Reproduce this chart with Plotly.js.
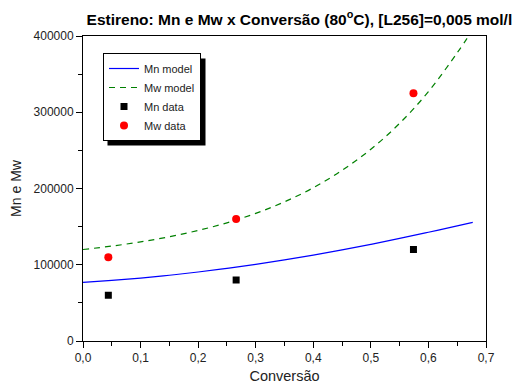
<!DOCTYPE html>
<html>
<head>
<meta charset="utf-8">
<script src="https://cdn.plot.ly/plotly-3.0.1.min.js"></script>
<style>html,body{margin:0;padding:0;background:#fff;}#chart{width:518px;height:387px;}</style>
</head>
<body>
<div id="chart"></div>
<script>
// Model curves
const modelConv = [0, 0.05, 0.1, 0.15, 0.2, 0.25, 0.3, 0.35, 0.4, 0.45, 0.5, 0.55, 0.6, 0.65, 0.677];
const mnModel = [77000, 79500, 82500, 86200, 90500, 95300, 100600, 106400, 112700, 119500, 126800, 134500, 142600, 151000, 155500];
const mwModel = [120000, 124500, 130000, 136700, 145000, 155000, 167400, 182500, 201000, 223800, 251500, 285500, 327000, 378000, 408000];
// Experimental data
const dataConv = [0.044, 0.266, 0.574];
const mnData = [60000, 80000, 120000];
const mwData = [110000, 160000, 325000];
const xTicks = [0, 0.1, 0.2, 0.3, 0.4, 0.5, 0.6, 0.7];
const yTicks = [0, 100000, 200000, 300000, 400000];

const FONT = 'Liberation Sans, Arial, sans-serif';
const traces = [
  {x: modelConv, y: mnModel, mode: 'lines', name: 'Mn model', line: {color: '#0000ff', width: 1.2, shape: 'spline'}},
  {x: modelConv, y: mwModel, mode: 'lines', name: 'Mw model', line: {color: '#008000', width: 1.2, dash: '6px,5px', shape: 'spline'}},
  {x: dataConv, y: mnData, mode: 'markers', name: 'Mn data', marker: {symbol: 'square', color: '#000', size: 7}},
  {x: dataConv, y: mwData, mode: 'markers', name: 'Mw data', marker: {symbol: 'circle', color: '#ff0000', size: 8}}
];
const L = 83, R = 486, T = 36, B = 341;
const pw = R - L, ph = B - T;
function px(x){return (x - L)/pw;}
function py(y){return (B - y)/ph;}
const layout = {
  width: 518, height: 387,
  margin: {l: L, r: 518 - R, t: T, b: 387 - B, pad: 0},
  paper_bgcolor: '#fff', plot_bgcolor: '#fff',
  separators: ',.',
  font: {family: FONT, size: 12, color: '#222'},
  showlegend: true,
  title: {text: 'Estireno: Mn e Mw x Conversão (80<sup>o</sup>C), [L256]=0,005 mol/l',
          font: {family: FONT, size: 15.5, color: '#000', weight: 'bold'},
          x: 0.578, xanchor: 'center', y: 0.95, yanchor: 'middle', xref: 'container', yref: 'container'},
  xaxis: {range: [0, 0.7], tickvals: xTicks, tickformat: '.1f', ticks: 'outside', ticklen: 6, tickwidth: 1,
          tickcolor: '#000', showline: true, linecolor: '#000', linewidth: 1, mirror: true, showgrid: false, zeroline: false,
          tickfont: {family: FONT, size: 12, color: '#222'},
          minor: {dtick: 0.05, ticks: 'outside', ticklen: 4, tickcolor: '#000', showgrid: false},
          title: {text: 'Conversão', font: {family: FONT, size: 14.5, color: '#222'}, standoff: 6}},
  yaxis: {range: [0, 400000], tickvals: yTicks, tickformat: 'd', ticks: 'outside', ticklen: 6, tickwidth: 1,
          tickcolor: '#000', showline: true, linecolor: '#000', linewidth: 1, mirror: true, showgrid: false, zeroline: false,
          tickfont: {family: FONT, size: 12, color: '#222'},
          minor: {dtick: 50000, ticks: 'outside', ticklen: 4, tickcolor: '#000', showgrid: false},
          title: {text: 'Mn e Mw', font: {family: FONT, size: 14, color: '#222'}, standoff: 8}},
  legend: {x: px(103), y: py(53), xanchor: 'left', yanchor: 'top', bgcolor: '#fff', bordercolor: '#000', borderwidth: 1,
           font: {family: FONT, size: 11, color: '#222'}, itemwidth: 30, tracegroupgap: 0},
  shapes: []
};
Plotly.newPlot('chart', traces, layout, {displayModeBar: false, staticPlot: true}).then(function(gd){
  const bg = gd.querySelector('.legend .bg');
  if (!bg) return;
  const r = bg.getBoundingClientRect();
  const c = gd.getBoundingClientRect();
  const left = r.left - c.left, right = r.right - c.left, top = r.top - c.top, bottom = r.bottom - c.top;
  return Plotly.relayout(gd, {shapes: [{type: 'rect', xref: 'paper', yref: 'paper',
    x0: px(left + 4), x1: px(right + 5), y0: py(bottom + 5), y1: py(top + 5),
    fillcolor: '#000', line: {width: 0}, layer: 'above'}]});
});
</script>
</body>
</html>
